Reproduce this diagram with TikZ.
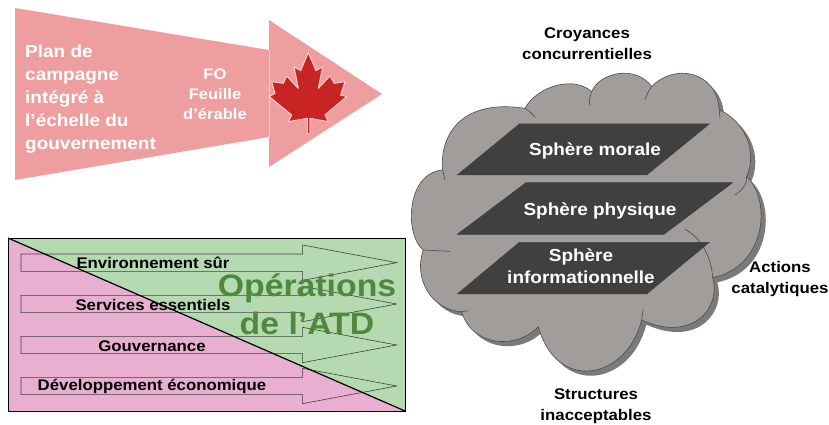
\documentclass[tikz,border=0pt]{standalone}
\usepackage{fontspec}
\setmainfont{Liberation Sans}
\definecolor{arrowred}{HTML}{EE9E9E}
\definecolor{leafred}{HTML}{C82424}
\definecolor{pinkbox}{HTML}{E8AFD0}
\definecolor{greenbox}{HTML}{B5D9B0}
\definecolor{opgreen}{HTML}{4F8A3C}
\definecolor{cloudgray}{HTML}{A09D9A}
\definecolor{cloudshadow}{HTML}{7A7A7A}
\definecolor{planedark}{HTML}{404040}
\tikzset{
  wide/.style={xscale=1.09,transform shape},
  lbl/.style={wide,font=\bfseries\fontsize{15.4}{21}\selectfont,align=center,text=black,inner sep=0pt},
  boxlbl/.style={wide,font=\bfseries\fontsize{15.4}{16}\selectfont,align=center,text=black,inner sep=0pt},
  whitelbl/.style={wide,font=\bfseries\fontsize{17.4}{22}\selectfont,align=center,text=white,inner sep=0pt},
  strip/.style={draw=black!75,line width=.6pt},
  plane/.style={fill=planedark,draw=planedark,line width=.5pt},
  cloudline/.style={draw=black!70,line width=.6pt,line cap=round},
}
\def\cloudpath{(128,480) .. controls (118,380) and (180,265) .. (375,295)
 .. controls (410,230) and (520,195) .. (575,245)
 .. controls (600,185) and (710,165) .. (755,230)
 .. controls (820,160) and (950,180) .. (958,300)
 .. controls (1030,330) and (1075,420) .. (1040,500)
 .. controls (1115,570) and (1100,770) .. (938,803)
 .. controls (965,890) and (880,1000) .. (725,930)
 .. controls (680,1110) and (470,1150) .. (415,950)
 .. controls (350,1020) and (215,1010) .. (185,905)
 .. controls (90,900) and (40,800) .. (70,720)
 .. controls (15,680) and (15,490) .. (128,480) -- cycle}
\begin{document}
\begin{tikzpicture}[x=1pt,y=-1pt]
\clip (0,0) rectangle (829,424);
\fill[white] (0,0) rectangle (829,424);
% top arrow
\fill[arrowred] (15,8) -- (269,50) -- (269,20) -- (382,94) -- (269,167) -- (269,137) -- (15,180) -- cycle;
\draw[white!60!arrowred,line width=.5pt] (269,50) -- (269,137);
\begin{scope}[x=.3333pt,y=-.3333pt]
\filldraw[fill=leafred,draw=white!50!arrowred,line width=1pt,line join=round]
 (925,158) -- (948,212) -- (968,200) -- (955,265) -- (990,228) -- (1003,250) -- (1035,245) -- (1022,285) -- (1040,290) -- (975,345) -- (985,365) -- (930,355) -- (930,402) -- (922,402) -- (922,355) -- (865,365) -- (875,345) -- (808,290) -- (825,280) -- (815,245) -- (850,250) -- (860,228) -- (895,265) -- (882,200) -- (902,212) -- cycle;
\end{scope}
\node[whitelbl,align=left,anchor=north west,font=\bfseries\fontsize{17.4}{22.8}\selectfont] (plan) at (25,45) {Plan de\\campagne\\intégré à\\l’échelle du\\gouvernement};
\node[whitelbl,font=\bfseries\fontsize{15.2}{20}\selectfont] (fo) at (215,94) {FO\\Feuille\\d’érable};
% box
\fill[pinkbox] (8,238) rectangle (405,411);
\fill[greenbox] (8,238) -- (405,238) -- (405,411) -- cycle;
\begin{scope}[shift={(0,225)},x=.3333pt,y=-.3333pt]
\foreach \c in {113,237,360,483}{
 \draw[strip] (63,\c-26) -- (908,\c-26) -- (908,\c-53) -- (1190,\c) -- (908,\c+53) -- (908,\c+26) -- (63,\c+26) -- cycle;
}
\end{scope}
\draw[black,line width=.8pt] (8,238) rectangle (405,411);
\draw[black,line width=1.2pt] (8,238) -- (405,411);
\node[boxlbl] (env) at (153,263) {Environnement sûr};
\node[boxlbl] (serv) at (153,305) {Services essentiels};
\node[boxlbl] (gouv) at (152,346) {Gouvernance};
\node[boxlbl] (dev) at (152,386) {Développement économique};
\node[lbl,font=\bfseries\fontsize{31}{38}\selectfont,text=opgreen] (op) at (307,304) {Opérations\\de l’ATD};
% cloud
\begin{scope}[shift={(400,10)},x=.3333pt,y=-.3333pt]
\fill[cloudshadow,shift={(14,14)}] \cloudpath;
\filldraw[fill=cloudgray,cloudline] \cloudpath;
\draw[cloudline] (375,295) .. controls (388,303) and (398,312) .. (405,322);
\draw[cloudline] (575,245) .. controls (570,258) and (568,270) .. (568,285);
\draw[cloudline] (755,230) .. controls (746,242) and (740,255) .. (735,268);
\draw[cloudline] (958,300) -- (960,325);
\draw[cloudline] (1040,500) .. controls (1042,520) and (1028,540) .. (1005,555);
\draw[cloudline] (938,803) .. controls (935,740) and (900,680) .. (855,658);
\draw[cloudline] (725,930) -- (730,898);
\draw[cloudline] (185,905) -- (205,902);
\draw[cloudline] (70,720) -- (150,724);
\draw[cloudline] (128,480) -- (135,510);
\fill[plane] (358,342) -- (928,342) -- (740,495) -- (172,495) -- cycle;
\fill[plane] (378,518) -- (998,518) -- (792,673) -- (172,673) -- cycle;
\fill[plane] (358,697) -- (928,697) -- (740,852) -- (172,852) -- cycle;
\end{scope}
\node[whitelbl] (moral) at (595,151) {Sphère morale};
\node[whitelbl] (phys) at (600,211) {Sphère physique};
\node[whitelbl] (info) at (581,266) {Sphère\\informationnelle};
\node[lbl] (croy) at (587,44) {Croyances\\concurrentielles};
\node[lbl] (act) at (780,279) {Actions\\catalytiques};
\node[lbl] (struct) at (596,406.5) {Structures\\inacceptables};
\end{tikzpicture}
\end{document}
